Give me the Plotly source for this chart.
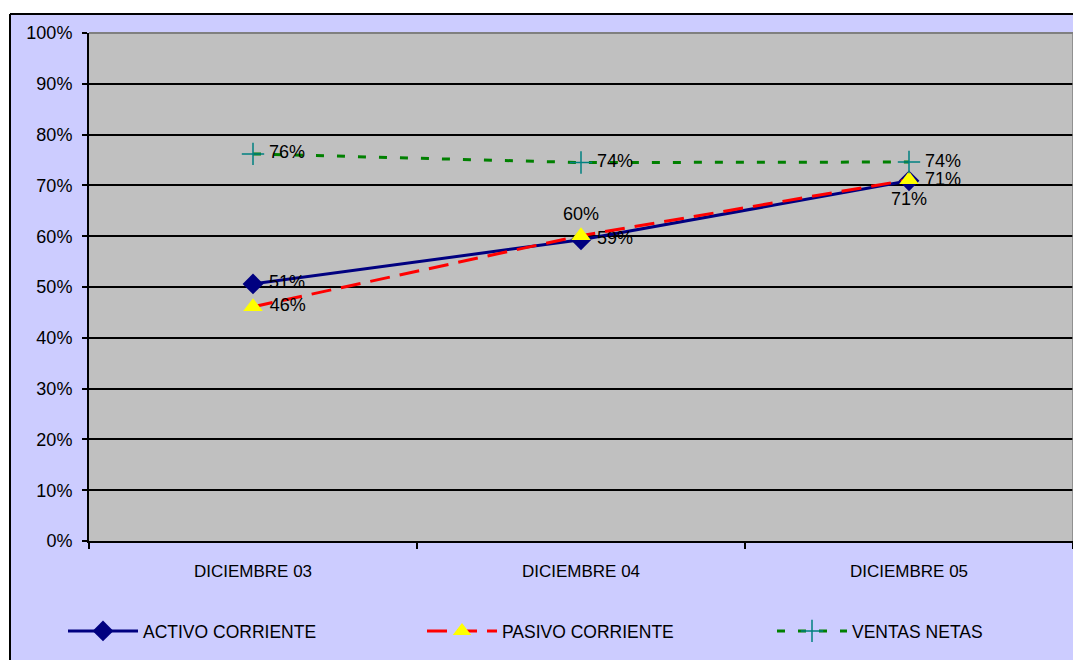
import plotly.graph_objects as go

categories = ["DICIEMBRE 03", "DICIEMBRE 04", "DICIEMBRE 05"]
activo = [0.506, 0.593, 0.709]
pasivo = [0.461, 0.601, 0.711]
ventas = [0.762, 0.745, 0.746]
activo_lbl = ["51%", "59%", "71%"]
pasivo_lbl = ["46%", "60%", "71%"]
ventas_lbl = ["76%", "74%", "74%"]
y_ticks = [i / 10 for i in range(11)]
y_tick_text = [f"{i*10}%" for i in range(11)]

# page offset (default body margin of the html page)
OFF = 8
W, H = 1081 - OFF, 660 - OFF
# plot area in screen pixels
SL, SR, ST, SB = 89, 1073, 33, 541
L, T = SL - OFF, ST - OFF
R, B = W - (SR - OFF), H - (SB - OFF)
PW, PH = SR - SL, SB - ST

def px_x(p):
    return (p - SL) / PW

def px_y(p):
    return (SB - p) / PH

FONT = "Arial, Liberation Sans, sans-serif"

def pad_right(labels, positions):
    return [(" " + t) if p == "middle right" else t for t, p in zip(labels, positions)]

pos_a = ["middle right"] * 3
pos_p = ["middle right", "top center", "bottom center"]
pos_v = ["middle right"] * 3

fig = go.Figure()
fig.add_trace(go.Scatter(
    x=categories, y=activo, name="ACTIVO CORRIENTE", mode="lines+markers+text",
    line=dict(color="#000080", width=3),
    marker=dict(symbol="diamond", size=16, color="#000080"),
    text=pad_right(activo_lbl, pos_a), textposition=pos_a,
    textfont=dict(family=FONT, size=18, color="#000000"),
    legend="legend", cliponaxis=False,
))
fig.add_trace(go.Scatter(
    x=categories, y=pasivo, name="PASIVO CORRIENTE", mode="lines+markers+text",
    line=dict(color="#FF0000", width=3, dash="20px,10px"),
    marker=dict(symbol="triangle-up", size=17, color="#FFFF00"),
    text=pad_right(pasivo_lbl, pos_p), textposition=pos_p,
    textfont=dict(family=FONT, size=18, color="#000000"),
    legend="legend2", cliponaxis=False,
))
fig.add_trace(go.Scatter(
    x=categories, y=ventas, name="VENTAS NETAS", mode="lines+markers+text",
    line=dict(color="#008000", width=3, dash="8px,13px"),
    marker=dict(symbol="cross-thin-open", size=16, color="#008080",
                line=dict(color="#008080", width=1.5)),
    text=pad_right(ventas_lbl, pos_v), textposition=pos_v,
    textfont=dict(family=FONT, size=18, color="#000000"),
    legend="legend3", cliponaxis=False,
))

legend_common = dict(
    orientation="h", yanchor="middle", xanchor="left",
    bgcolor="rgba(0,0,0,0)", borderwidth=0, itemwidth=70,
    font=dict(family=FONT, size=17.5, color="#000000"),
)
ly = px_y(631)

shapes = [
    # white area outside the chart border
    dict(type="rect", xref="paper", yref="paper", x0=px_x(0), x1=px_x(10), y0=px_y(700), y1=px_y(0),
         fillcolor="white", line=dict(width=0), layer="above"),
    dict(type="rect", xref="paper", yref="paper", x0=px_x(0), x1=px_x(1100), y0=px_y(14), y1=px_y(0),
         fillcolor="white", line=dict(width=0), layer="above"),
    # chart border lines
    dict(type="line", xref="paper", yref="paper", x0=px_x(10), x1=px_x(10), y0=px_y(700), y1=px_y(14),
         line=dict(color="#000000", width=2), layer="above"),
    dict(type="line", xref="paper", yref="paper", x0=px_x(10), x1=px_x(1100), y0=px_y(14), y1=px_y(14),
         line=dict(color="#000000", width=2), layer="above"),
    # plot area outline (top and right gray)
    dict(type="line", xref="paper", yref="paper", x0=0, x1=1, y0=1, y1=1,
         line=dict(color="#808080", width=2), layer="above"),
    dict(type="line", xref="paper", yref="paper", x0=1, x1=1, y0=0, y1=1,
         line=dict(color="#808080", width=1.5), layer="above"),
]

fig.update_layout(
    width=W, height=H,
    margin=dict(l=L, r=R, t=T, b=B, autoexpand=False),
    paper_bgcolor="#CCCCFF",
    plot_bgcolor="#C0C0C0",
    font=dict(family=FONT, size=17, color="#000000"),
    showlegend=True,
    legend=dict(x=px_x(63), y=ly, **legend_common),
    legend2=dict(x=px_x(422), y=ly, **legend_common),
    legend3=dict(x=px_x(772), y=ly, **legend_common),
    shapes=shapes,
    xaxis=dict(
        type="category", range=[-0.5, 2.5], tickson="boundaries",
        ticks="outside", ticklen=6, tickwidth=1.5, tickcolor="#000000",
        showgrid=False, showline=True, linecolor="#000000", linewidth=2,
        tickfont=dict(family=FONT, size=17, color="#000000"),
        ticklabelstandoff=14, fixedrange=True,
    ),
    yaxis=dict(
        range=[0, 1], tickvals=y_ticks, ticktext=y_tick_text,
        ticks="outside", ticklen=5, tickwidth=1.5, tickcolor="#000000",
        showgrid=True, gridcolor="#000000", gridwidth=1.5,
        showline=True, linecolor="#000000", linewidth=2, zeroline=False,
        tickfont=dict(family=FONT, size=18, color="#000000"),
        ticklabelstandoff=6, fixedrange=True,
    ),
)

fig.write_html("out.html")
